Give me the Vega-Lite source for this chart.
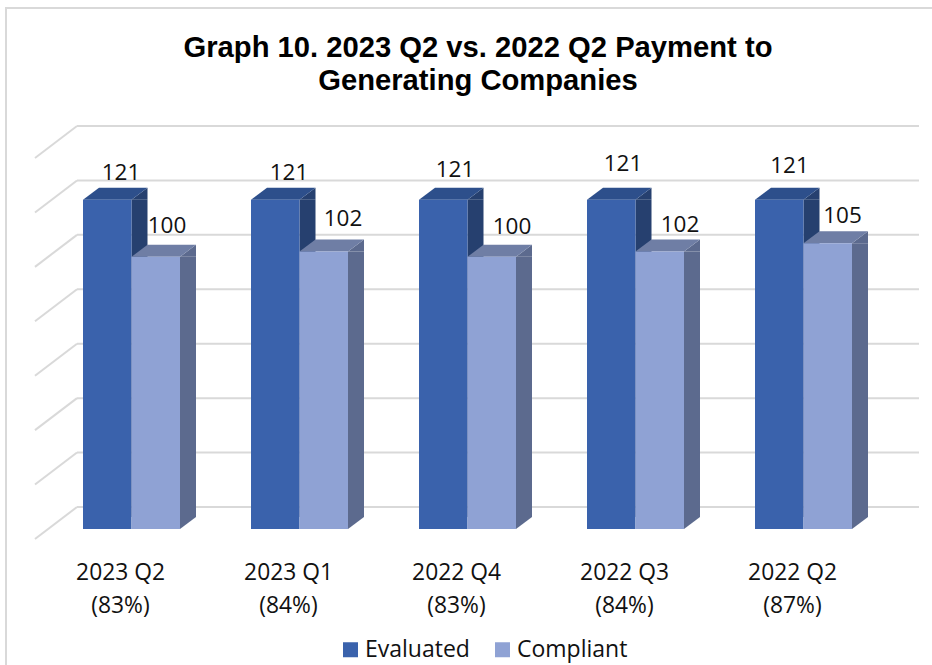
{
"$schema":"https://vega.github.io/schema/vega-lite/v6.json",
"width":940,"height":670,"autosize":"none","padding":{"left":6,"top":8,"right":0,"bottom":0},
"background":"white",
"view":{"stroke":"#d9d9d9","strokeWidth":2},
"title":{"text":["Graph 10. 2023 Q2 vs. 2022 Q2 Payment to","Generating Companies"],"font":"Liberation Sans","fontWeight":"bold","fontSize":29.2,"lineHeight":33,"color":"#000000","anchor":"middle","frame":"group","offset":0,"dy":88,"dx":2},
"datasets":{
"bars":[
{"period":"2023 Q2 (83%)","series":"Evaluated","value":121},
{"period":"2023 Q1 (84%)","series":"Evaluated","value":121},
{"period":"2022 Q4 (83%)","series":"Evaluated","value":121},
{"period":"2022 Q3 (84%)","series":"Evaluated","value":121},
{"period":"2022 Q2 (87%)","series":"Evaluated","value":121},
{"period":"2023 Q2 (83%)","series":"Compliant","value":100},
{"period":"2023 Q1 (84%)","series":"Compliant","value":102},
{"period":"2022 Q4 (83%)","series":"Compliant","value":100},
{"period":"2022 Q3 (84%)","series":"Compliant","value":102},
{"period":"2022 Q2 (87%)","series":"Compliant","value":105}
],
"grid":[{"tick":0,"wallStart":0,"wallEnd":1},{"tick":20,"wallStart":0,"wallEnd":1},{"tick":40,"wallStart":0,"wallEnd":1},{"tick":60,"wallStart":0,"wallEnd":1},{"tick":80,"wallStart":0,"wallEnd":1},{"tick":100,"wallStart":0,"wallEnd":1},{"tick":120,"wallStart":0,"wallEnd":1},{"tick":140,"wallStart":0,"wallEnd":1}]
},
"data":{"name":"bars"},
"encoding":{
"x":{"field":"period","type":"nominal","sort":null,"title":null,"scale":{"domain":["2023 Q2 (83%)","2023 Q1 (84%)","2022 Q4 (83%)","2022 Q3 (84%)","2022 Q2 (87%)"],"range":[41.5,881.5],"paddingInner":0,"paddingOuter":0},"axis":null},
"y":{"field":"value","type":"quantitative","title":null,"stack":null,"scale":{"domain":[-54.75,191.44],"nice":false,"zero":false},"axis":null}
},
"layer":[
{"data":{"name":"grid"},"mark":{"type":"rule","stroke":"#d9d9d9","strokeWidth":2,"yOffset":-22},
"encoding":{"x":{"field":"wallStart","type":"quantitative","title":null,"scale":{"domain":[0,1],"range":[71,913],"nice":false,"zero":false},"axis":null},"x2":{"field":"wallEnd"},"y":{"field":"tick","type":"quantitative","title":null,"scale":{"domain":[-54.75,191.44],"nice":false,"zero":false},"axis":null}}},
{"data":{"name":"grid"},"mark":{"type":"point","filled":false,"stroke":"#d9d9d9","strokeWidth":2,"opacity":1,"size":4,"shape":"M0,0L-42,32","yOffset":-22},
"encoding":{"x":{"field":"wallStart","type":"quantitative","title":null,"scale":{"domain":[0,1],"range":[71,913],"nice":false,"zero":false},"axis":null},"y":{"field":"tick","type":"quantitative","title":null,"scale":{"domain":[-54.75,191.44],"nice":false,"zero":false},"axis":null}}},

{"transform":[{"filter":"datum.series==='Evaluated'"}],"mark":{"type":"bar","width":16,"xOffset":8,"y2Offset":-12,"fill":"#26406f"},"encoding":{"y2":{"datum":0}}},
{"transform":[{"filter":"datum.series==='Evaluated'"}],"mark":{"type":"point","filled":true,"opacity":1,"size":4,"fill":"#26406f","stroke":null,"xOffset":-24.25,"shape":"M24.25,0L40.25,-12L40.25,0Z"}},
{"transform":[{"filter":"datum.series==='Evaluated'"}],"mark":{"type":"point","filled":true,"opacity":1,"size":4,"fill":"#2d4f8b","stroke":null,"xOffset":-24.25,"shape":"M-24.25,0L-8.25,-12L40.25,-12L24.25,0Z"}},
{"transform":[{"filter":"datum.series==='Evaluated'"}],"mark":{"type":"bar","width":48.5,"xOffset":-24.25},
"encoding":{"y2":{"datum":0},"fill":{"field":"series","type":"nominal","title":null,"scale":{"domain":["Evaluated","Compliant"],"range":["#3a62ac","#8fa2d4"]},
"legend":{"orient":"none","legendX":333,"legendY":630,"direction":"horizontal","symbolType":"square","symbolSize":225,"symbolStrokeWidth":0,"labelFont":"Open Sans","labelFontSize":23,"labelColor":"#111111","columnPadding":21,"labelOffset":3,"title":null}}}},

{"transform":[{"filter":"datum.series==='Compliant'"}],"mark":{"type":"bar","width":16,"xOffset":56.5,"y2Offset":-12,"fill":"#5c6a8e"},"encoding":{"y2":{"datum":0}}},
{"transform":[{"filter":"datum.series==='Compliant'"}],"mark":{"type":"point","filled":true,"opacity":1,"size":4,"fill":"#5c6a8e","stroke":null,"xOffset":24.25,"shape":"M24.25,0L40.25,-12L40.25,0Z"}},
{"transform":[{"filter":"datum.series==='Compliant'"}],"mark":{"type":"point","filled":true,"opacity":1,"size":4,"fill":"#5c6a8e","stroke":null,"xOffset":24.25,"shape":"M24.25,0L24.25,-12L40.25,-12Z"},"encoding":{"y":{"datum":0}}},
{"transform":[{"filter":"datum.series==='Compliant'"}],"mark":{"type":"point","filled":true,"opacity":1,"size":4,"fill":"#6f7ea5","stroke":null,"xOffset":24.25,"shape":"M-24.25,0L-8.25,-12L40.25,-12L24.25,0Z"}},
{"transform":[{"filter":"datum.series==='Compliant'"}],"mark":{"type":"bar","width":48.5,"xOffset":24.25},
"encoding":{"y2":{"datum":0},"fill":{"field":"series","type":"nominal","title":null,"scale":{"domain":["Evaluated","Compliant"],"range":["#3a62ac","#8fa2d4"]}}}},

{"mark":{"type":"text","font":"Open Sans","fontSize":22.5,"color":"#111111","baseline":"middle","align":"center",
"dx":{"expr":"{'2023 Q2 (83%)Evaluated':-10.5,'2023 Q1 (84%)Evaluated':-10.5,'2022 Q4 (83%)Evaluated':-12.5,'2022 Q3 (84%)Evaluated':-12.5,'2022 Q2 (87%)Evaluated':-14,'2023 Q2 (83%)Compliant':35.5,'2023 Q1 (84%)Compliant':43.5,'2022 Q4 (83%)Compliant':44.5,'2022 Q3 (84%)Compliant':44.5,'2022 Q2 (87%)Compliant':39}[datum.period+datum.series]"},
"dy":{"expr":"{'2023 Q2 (83%)Evaluated':-26.5,'2023 Q1 (84%)Evaluated':-26.5,'2022 Q4 (83%)Evaluated':-29.5,'2022 Q3 (84%)Evaluated':-35.5,'2022 Q2 (87%)Evaluated':-33.5,'2023 Q2 (83%)Compliant':-30.5,'2023 Q1 (84%)Compliant':-32.5,'2022 Q4 (83%)Compliant':-29.5,'2022 Q3 (84%)Compliant':-26.5,'2022 Q2 (87%)Compliant':-27.5}[datum.period+datum.series]"}},
"encoding":{"text":{"field":"value","type":"quantitative"},
"x":{"field":"period","type":"nominal","sort":null,"title":null,"scale":{"domain":["2023 Q2 (83%)","2023 Q1 (84%)","2022 Q4 (83%)","2022 Q3 (84%)","2022 Q2 (87%)"],"range":[41.5,881.5],"paddingInner":0,"paddingOuter":0},
"axis":{"orient":"bottom","offset":-128,"domain":false,"ticks":false,"grid":false,"labelAngle":0,"labelPadding":11,"labelOffset":-11.5,"labelFont":"Open Sans","labelFontSize":22.8,"labelColor":"#111111","labelLineHeight":33,"labelBaseline":"top","labelExpr":"[slice(datum.label,0,7),slice(datum.label,8)]","labelOverlap":false,"labelLimit":0,"title":null}}}}
],
"resolve":{"scale":{"x":"independent"}}
}
